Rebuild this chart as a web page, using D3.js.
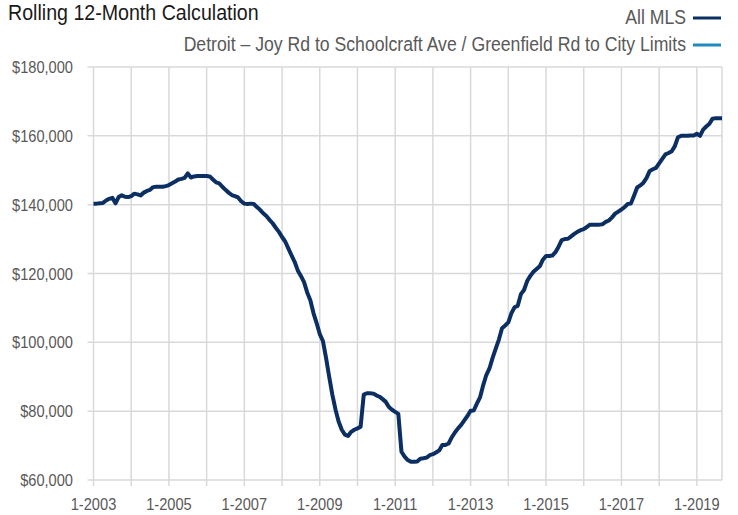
<!DOCTYPE html>
<html>
<head>
<meta charset="utf-8">
<script src="https://cdn.jsdelivr.net/npm/d3@7"></script>
<style>
  html, body { margin: 0; padding: 0; background: #fff; }
  svg text { font-family: 'Liberation Sans', Arial, sans-serif; }
</style>
</head>
<body>
<svg id="chart" width="738" height="515"></svg>
<script>
// ---- Data ----
const startYear = 2003;
const allMLS = [
  140300,140300,140400,140500,141200,141700,142000,140400,142200,142700,142300,142200,
  142500,143200,143000,142700,143500,144000,144300,145100,145200,145200,145200,145400,
  145700,146200,146700,147300,147500,147800,149100,147900,148200,148300,148300,148300,
  148300,148200,147300,146500,146200,145200,144300,143500,142800,142500,142100,141000,
  140300,140200,140300,140200,139300,138500,137500,136700,135600,134600,133300,132100,
  130600,129300,127300,125300,123400,120900,119300,117500,114500,112200,108500,105600,
  102400,100400,95500,90000,84800,80500,77000,74600,73200,72800,74000,74600,
  75000,75500,84800,85200,85200,85100,84600,84200,83500,82700,81200,80400,
  79800,79200,68200,66800,65800,65300,65300,65400,66200,66300,66500,67200,
  67500,68000,68600,70200,70200,70600,72400,73800,75000,76000,77300,78600,
  80100,80200,82200,84000,87500,90500,92400,95500,98200,100800,104100,104900,
  105800,108500,110200,110600,114000,115200,117800,119300,120500,121300,122100,124000,
  125100,125100,125200,126200,127800,129700,130000,130100,130800,131500,132100,132600,
  132900,133500,134200,134200,134200,134200,134300,135000,135400,136300,137400,138000,
  138600,139300,140200,140300,142600,145000,145600,146400,147800,149800,150300,150700,
  152000,153300,154600,155000,155500,157000,159600,160000,160000,160000,160100,160100,
  160600,160000,161800,162700,163500,165000,165100,165100,165100
];
const detroit = []; // no visible values for this series
const yTicks = [60000, 80000, 100000, 120000, 140000, 160000, 180000];
const xLabelYears = [2003, 2005, 2007, 2009, 2011, 2013, 2015, 2017, 2019];
const xGridYears = d3.range(2003, 2020);
const legendItems = [
  { name: "All MLS", color: "#0c2f63" },
  { name: "Detroit – Joy Rd to Schoolcraft Ave / Greenfield Rd to City Limits", color: "#1f8ac0" }
];
const title = "Rolling 12-Month Calculation";

// ---- Layout ----
const svg = d3.select("#chart");
const mLeft = 93.5, mRight = 722, mTop = 67, mBottom = 480;
const squeeze = 0.86; // condensed look

const x = d3.scaleLinear().domain([0, allMLS.length - 1]).range([mLeft, mRight]);
const y = d3.scaleLinear().domain([60000, 180000]).range([mBottom, mTop]);
const monthIndex = yr => (yr - startYear) * 12;

const gridColor = "#d9d9d9";

function condense(sel) {
  sel.each(function () {
    const w = this.getComputedTextLength();
    d3.select(this).attr("textLength", w * squeeze).attr("lengthAdjust", "spacingAndGlyphs");
  });
}

// horizontal gridlines
svg.append("g").selectAll("line").data(yTicks).join("line")
  .attr("x1", mLeft - 6).attr("x2", mRight)
  .attr("y1", d => y(d)).attr("y2", d => y(d))
  .attr("stroke", gridColor).attr("stroke-width", 1.5);

// vertical gridlines (years) + right edge
svg.append("g").selectAll("line").data(xGridYears).join("line")
  .attr("x1", d => x(monthIndex(d))).attr("x2", d => x(monthIndex(d)))
  .attr("y1", mTop).attr("y2", mBottom + 6)
  .attr("stroke", gridColor).attr("stroke-width", 1.5);
svg.append("line")
  .attr("x1", mRight).attr("x2", mRight).attr("y1", mTop).attr("y2", mBottom)
  .attr("stroke", gridColor).attr("stroke-width", 1.5);

// y labels
const fmt = d3.format("$,");
svg.append("g").selectAll("text").data(yTicks).join("text")
  .attr("x", 73).attr("y", d => y(d))
  .attr("dy", "0.36em")
  .attr("text-anchor", "end")
  .attr("fill", "#595959")
  .attr("font-size", 17)
  .text(d => fmt(d))
  .call(condense);

// x labels
svg.append("g").selectAll("text").data(xLabelYears).join("text")
  .attr("x", d => x(monthIndex(d))).attr("y", 510)
  .attr("text-anchor", "middle")
  .attr("fill", "#595959")
  .attr("font-size", 17)
  .text(d => "1-" + d)
  .call(condense);

// line
const line = d3.line().x((d, i) => x(i)).y(d => y(d));
svg.append("path").datum(allMLS)
  .attr("d", line)
  .attr("fill", "none")
  .attr("stroke", legendItems[0].color)
  .attr("stroke-width", 4)
  .attr("stroke-linejoin", "round");
if (detroit.length) {
  svg.append("path").datum(detroit).attr("d", line).attr("fill", "none")
    .attr("stroke", legendItems[1].color).attr("stroke-width", 4);
}

// title
svg.append("text").attr("x", 8).attr("y", 20)
  .attr("fill", "#1a1a1a").attr("font-size", 22.8)
  .text(title)
  .call(condense);

// legend
const lg = svg.append("g").selectAll("g").data(legendItems).join("g")
  .attr("transform", (d, i) => `translate(0, ${i === 0 ? 17 : 44})`);
lg.append("text").attr("x", 686).attr("y", 0).attr("dy", "0.36em")
  .attr("text-anchor", "end").attr("fill", "#595959").attr("font-size", 20.5)
  .text(d => d.name)
  .call(condense);
lg.append("line").attr("x1", 693).attr("x2", 721).attr("y1", 1).attr("y2", 1)
  .attr("stroke", d => d.color).attr("stroke-width", 3);
</script>
</body>
</html>
